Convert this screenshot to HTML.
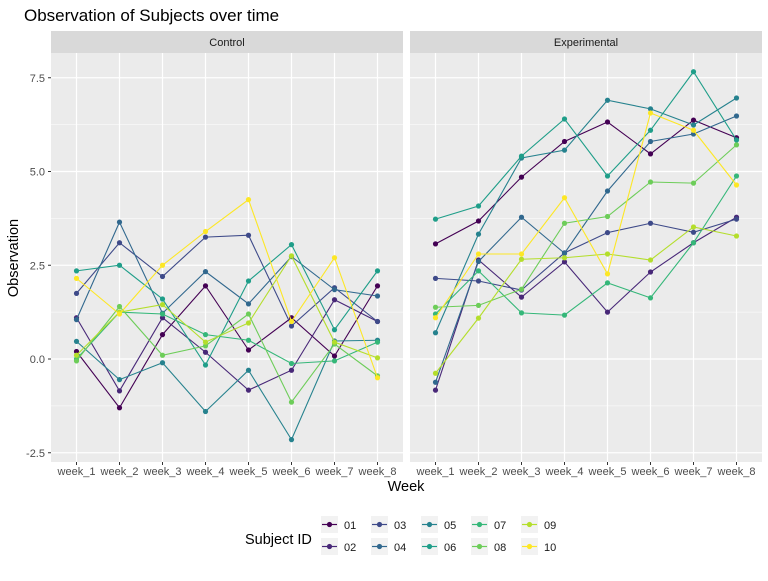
<!DOCTYPE html>
<html><head><meta charset="utf-8"><style>
body{margin:0;background:#fff;font-family:"Liberation Sans",sans-serif}
</style></head><body>
<svg width="768" height="576" xmlns="http://www.w3.org/2000/svg" font-family="Liberation Sans, sans-serif">
<text x="24" y="21" font-size="17" fill="#000">Observation of Subjects over time</text>
<g id="root"></g>
<text x="406" y="491" font-size="14.5" text-anchor="middle">Week</text>
<text transform="translate(18,258) rotate(-90)" font-size="14.5" text-anchor="middle">Observation</text>
<text x="245" y="544" font-size="14.5">Subject ID</text>
<g id="legend"></g>
</svg>
<script>
const weeks=["week_1","week_2","week_3","week_4","week_5","week_6","week_7","week_8"];
const subjects=["01","02","03","04","05","06","07","08","09","10"];
const colors=["#440154","#482878","#3E4A89","#31688E","#26828E","#1F9E89","#35B779","#6DCD59","#B4DE2C","#FDE725"];
const yTicks=[-2.5,0,2.5,5,7.5];
const yTickLabels=["-2.5","0.0","2.5","5.0","7.5"];
const panels=["Control","Experimental"];
const control=[
[0.2,-1.3,0.65,1.95,0.24,1.1,0.08,1.95],
[1.1,-0.85,1.1,0.18,-0.83,-0.3,1.58,1.0],
[1.75,3.1,2.2,3.25,3.3,0.88,1.9,1.0],
[1.05,3.65,1.22,2.33,1.47,2.73,1.85,1.68],
[0.47,-0.55,-0.1,-1.4,-0.3,-2.15,0.48,0.5],
[2.35,2.5,1.6,-0.16,2.08,3.05,0.78,2.35],
[0.0,1.25,1.2,0.65,0.5,-0.12,-0.05,0.45],
[-0.05,1.4,0.1,0.35,1.2,-1.15,0.4,-0.45],
[0.1,1.25,1.45,0.45,0.96,2.75,0.45,0.03],
[2.15,1.2,2.5,3.4,4.25,1.0,2.7,-0.5]];
const experimental=[
[3.07,3.68,4.85,5.8,6.32,5.47,6.37,5.9],
[-0.83,2.64,1.65,2.59,1.25,2.32,3.1,3.78],
[2.15,2.08,1.84,2.83,3.37,3.62,3.38,3.73],
[-0.62,2.6,3.78,2.82,4.48,5.8,6.0,6.48],
[0.7,3.33,5.36,5.57,6.9,6.67,6.24,6.96],
[3.73,4.08,5.41,6.4,4.88,6.1,7.66,5.84],
[1.2,2.35,1.23,1.17,2.03,1.63,3.1,4.88],
[1.38,1.43,1.86,3.62,3.8,4.72,4.69,5.71],
[-0.38,1.09,2.66,2.7,2.8,2.64,3.52,3.28],
[1.1,2.8,2.8,4.3,2.27,6.56,6.1,4.64]];
const NS="http://www.w3.org/2000/svg";
function mk(t,a,p){const e=document.createElementNS(NS,t);for(const k in a)e.setAttribute(k,a[k]);p.appendChild(e);return e;}
const root=document.getElementById('root');
const plotTop=53,plotBot=462,pw=352;
const panelX=[51,410];
function yS(v){return 359-37.5*v;}
function xS(i,p){return panelX[p]+25.5+i*43;}
panels.forEach((name,p)=>{
  const x0=panelX[p];
  const g=mk('g',{},root);
  
  
  const strip=mk('rect',{x:x0,y:31,width:pw,height:22,fill:'#D9D9D9'},g);
  
  
  const st=mk('text',{x:x0+pw/2,y:46,'font-size':11,'text-anchor':'middle',fill:'#1a1a1a'},g);st.textContent=name;
  
  
  mk('rect',{x:x0,y:plotTop,width:pw,height:plotBot-plotTop,fill:'#EBEBEB'},g);
  for(let k=0;k<yTicks.length-1;k++){const v=(yTicks[k]+yTicks[k+1])/2;mk('line',{x1:x0,x2:x0+pw,y1:yS(v),y2:yS(v),stroke:'#fff','stroke-width':0.6},g);}
  yTicks.forEach(v=>mk('line',{x1:x0,x2:x0+pw,y1:yS(v),y2:yS(v),stroke:'#fff','stroke-width':1.2},g));
  weeks.forEach((w,i)=>{mk('line',{x1:xS(i,p),x2:xS(i,p),y1:plotTop,y2:plotBot,stroke:'#fff','stroke-width':1.2},g);
    mk('line',{x1:xS(i,p),x2:xS(i,p),y1:plotBot,y2:plotBot+3,stroke:'#333'},g);
    const t=mk('text',{x:xS(i,p),y:plotBot+13,'font-size':11,'text-anchor':'middle',fill:'#4D4D4D'},g);t.textContent=w;
    
    });
  const data=p==0?control:experimental;
  data.forEach((vals,s)=>{
    const pts=vals.map((v,i)=>xS(i,p)+','+yS(v)).join(' ');
    const l=mk('polyline',{points:pts,fill:'none',stroke:colors[s],'stroke-width':1.1},g);
    
    
    vals.forEach((v,i)=>{const c=mk('circle',{cx:xS(i,p),cy:yS(v),r:2.6,fill:colors[s]},g);
      
      });
  });
});
yTicks.forEach((v,k)=>{mk('line',{x1:48,x2:51,y1:yS(v),y2:yS(v),stroke:'#333'},root);
  const t=mk('text',{x:45,y:yS(v)+4,'font-size':11,'text-anchor':'end',fill:'#4D4D4D'},root);t.textContent=yTickLabels[k];
  
  });
const lg=document.getElementById('legend');
subjects.forEach((s,i)=>{
  const x=321+Math.floor(i/2)*50,y=516+(i%2)*22;
  const g=mk('g',{},lg);
  
  
  mk('rect',{x:x,y:y,width:17,height:17,fill:'#F2F2F2'},g);
  mk('line',{x1:x+1,x2:x+16,y1:y+8.5,y2:y+8.5,stroke:colors[i],'stroke-width':1.2},g);
  mk('circle',{cx:x+8.5,cy:y+8.5,r:2.6,fill:colors[i]},g);
  const t=mk('text',{x:x+23,y:y+13,'font-size':11,fill:'#1a1a1a'},g);t.textContent=s;
});
</script>
</body></html>
